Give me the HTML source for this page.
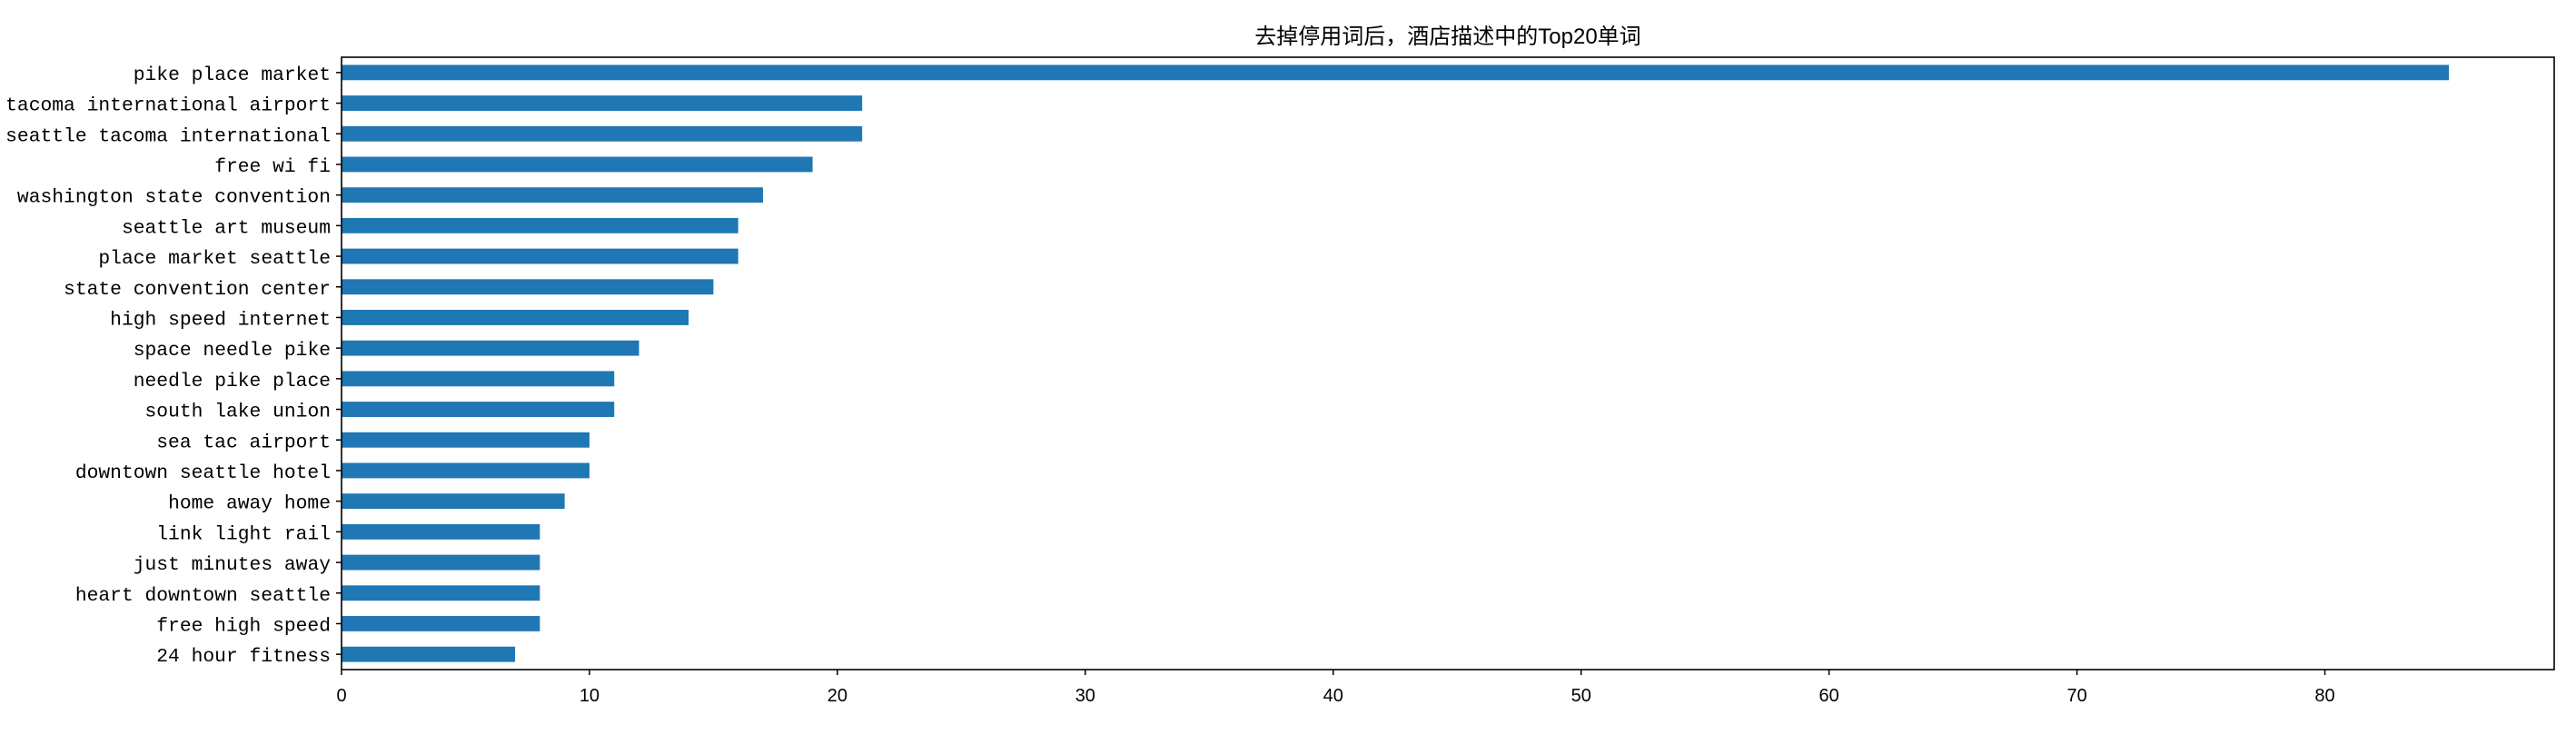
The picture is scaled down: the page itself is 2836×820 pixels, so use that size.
<!DOCTYPE html>
<html><head><meta charset="utf-8"><style>
html,body{margin:0;padding:0;background:#fff;}
svg{display:block;}
</style></head><body>
<svg id="chart" width="2836" height="820" xmlns="http://www.w3.org/2000/svg">
<text x="1594" y="48" text-anchor="middle" font-family="'Liberation Sans','Noto Sans CJK SC',sans-serif" font-size="24" fill="#000">去掉停用词后，酒店描述中的Top20单词</text>
<g id="plot"></g>
</svg>
<script>
const categories = ["pike place market","tacoma international airport","seattle tacoma international","free wi fi","washington state convention","seattle art museum","place market seattle","state convention center","high speed internet","space needle pike","needle pike place","south lake union","sea tac airport","downtown seattle hotel","home away home","link light rail","just minutes away","heart downtown seattle","free high speed","24 hour fitness"];
const values = [85,21,21,19,17,16,16,15,14,12,11,11,10,10,9,8,8,8,8,7];
const xTicks = [0,10,20,30,40,50,60,70,80];

const L=376,R=2812,T=63,B=737;
const xMax=Math.max(...values)*1.05;
const n=categories.length;
const xs=v=>L+(v/xMax)*(R-L);
const step=(B-T)/n;
const ys=i=>T+(i+0.5)*step;
const NS="http://www.w3.org/2000/svg";
const g=document.getElementById('plot');
function mk(tag,attrs){const e=document.createElementNS(NS,tag);for(const k in attrs)e.setAttribute(k,attrs[k]);g.appendChild(e);return e;}

categories.forEach((c,i)=>{
  const r=mk('rect',{x:xs(0),y:ys(i)-step*0.25,width:xs(values[i])-xs(0),height:step*0.5,fill:'#1f77b4'});
  
  
  const t=mk('line',{x1:L-6,x2:L,y1:ys(i),y2:ys(i),stroke:'#000','stroke-width':1.5});
  
  
  const lb=mk('text',{x:L-12,y:ys(i)+8,'text-anchor':'end','font-family':"'Liberation Mono',monospace",'font-size':21.3,fill:'#000'});
  lb.textContent=c;
  
  
});
xTicks.forEach(v=>{
  const t=mk('line',{x1:xs(v),x2:xs(v),y1:B,y2:B+6,stroke:'#000','stroke-width':1.5});
  
  
  const lb=mk('text',{x:xs(v),y:B+35,'text-anchor':'middle','font-family':"'Liberation Sans',sans-serif",'font-size':20,fill:'#000'});
  lb.textContent=v;
  
  
});
const f=mk('rect',{x:L,y:T,width:R-L,height:B-T,fill:'none',stroke:'#000','stroke-width':1.6});


</script>
</body></html>
